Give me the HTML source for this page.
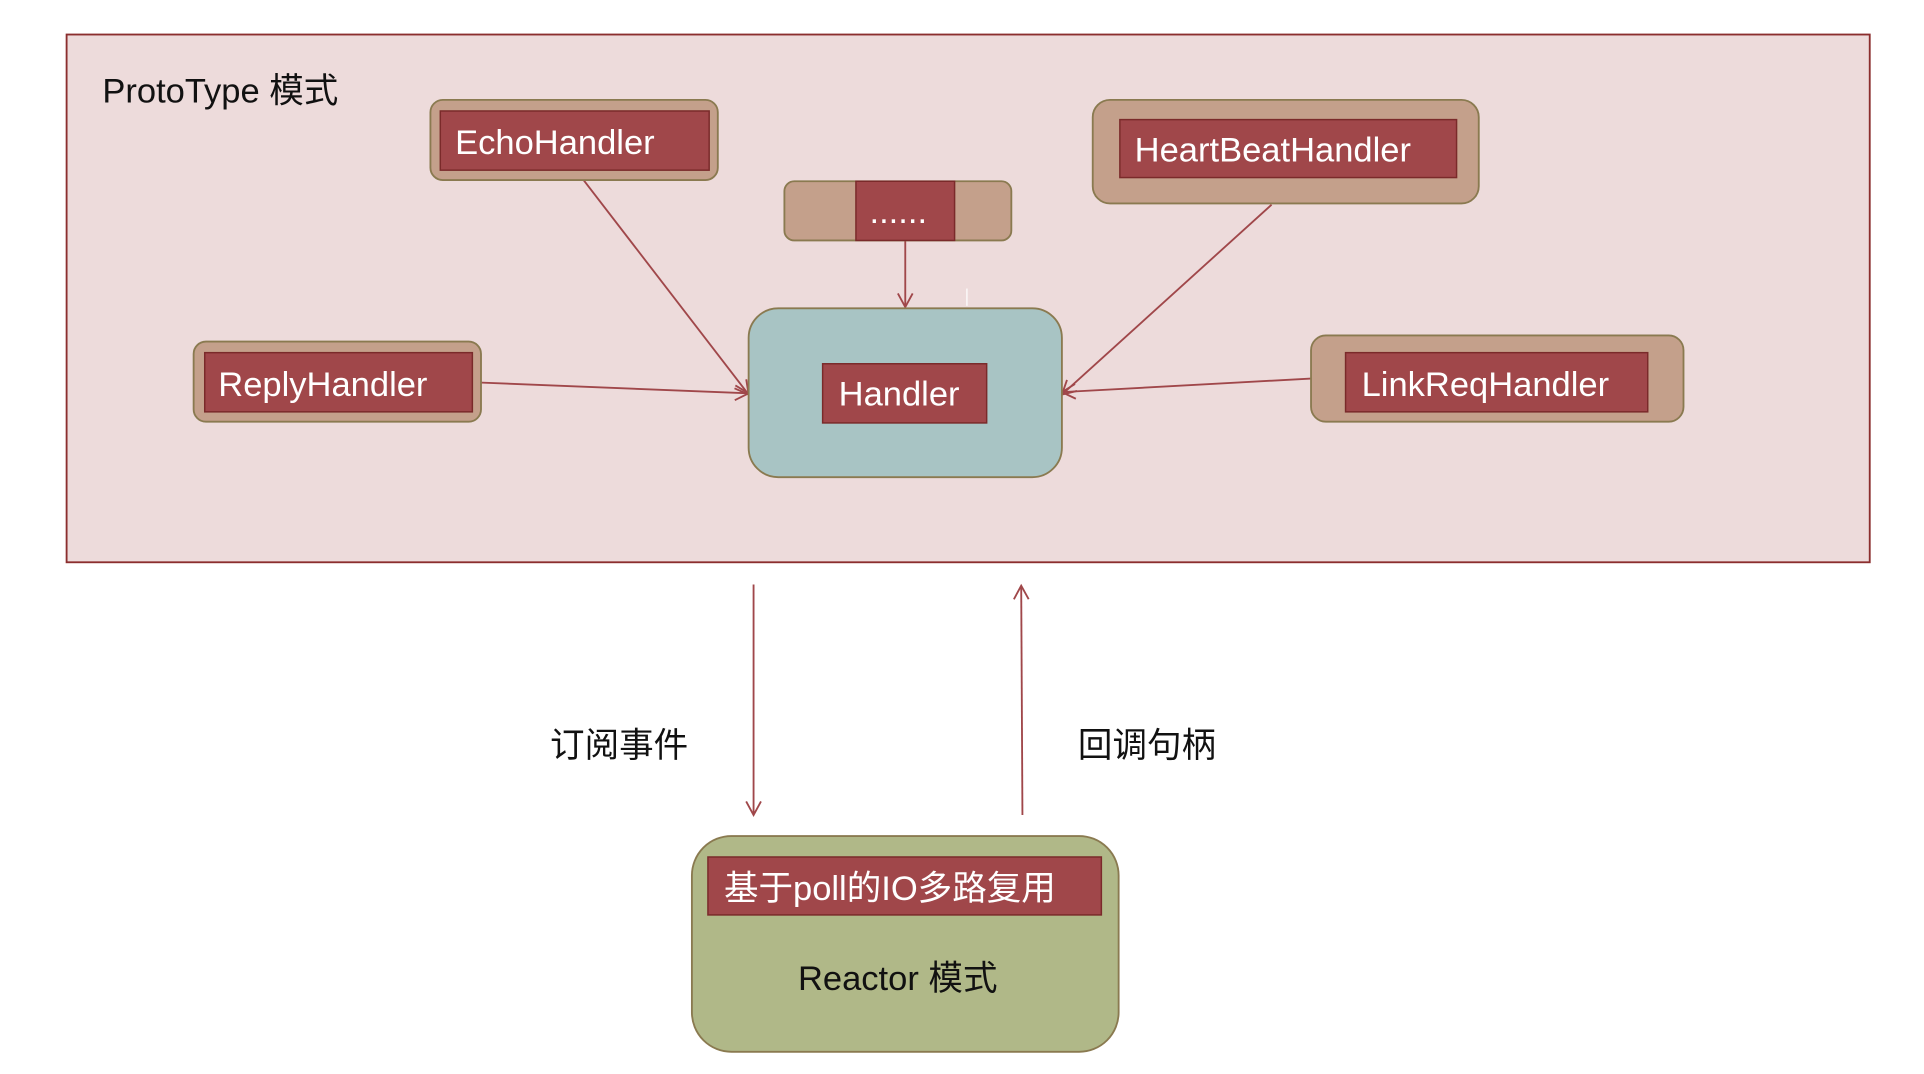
<!DOCTYPE html>
<html><head><meta charset="utf-8"><style>
html,body{margin:0;padding:0;background:#fff;}
svg{display:block;}
text{font-family:"Liberation Sans","Noto Sans CJK SC",sans-serif;}
</style></head><body>
<svg width="1924" height="1074" viewBox="0 0 1560 871" preserveAspectRatio="none" xmlns="http://www.w3.org/2000/svg">
<defs><marker id="a" markerWidth="14" markerHeight="14" refX="12" refY="7" orient="auto" markerUnits="userSpaceOnUse"><path d="M1,1 L12,7 L1,13" fill="none" stroke="#a0474a" stroke-width="1.5"/></marker></defs>
<rect x="54" y="28" width="1462" height="428" fill="#eddbdb" stroke="#8b2e2e" stroke-width="1.5"/>
<text x="83" y="83" font-size="28" fill="#111">ProtoType 模式</text>
<g stroke="#a0474a" stroke-width="1.5" fill="none" marker-end="url(#a)">
<line x1="467" y1="138" x2="607" y2="320"/>
<line x1="734" y1="195" x2="734" y2="249"/>
<line x1="1031" y1="166" x2="861" y2="320"/>
<line x1="383" y1="310" x2="607" y2="319"/>
<line x1="1063" y1="307" x2="861" y2="318"/>
<line x1="611" y1="474" x2="611" y2="661"/>
<line x1="829" y1="661" x2="828" y2="475"/>
</g>
<line x1="784" y1="234" x2="784" y2="248" stroke="#fff" stroke-width="1"/>
<g stroke="#8a7a50" stroke-width="1.5">
<rect x="349" y="81" width="233" height="65" rx="10" fill="#c4a08b"/>
<rect x="636" y="147" width="184" height="48" rx="8" fill="#c4a08b"/>
<rect x="886" y="81" width="313" height="84" rx="14" fill="#c4a08b"/>
<rect x="157" y="277" width="233" height="65" rx="10" fill="#c4a08b"/>
<rect x="1063" y="272" width="302" height="70" rx="12" fill="#c4a08b"/>
<rect x="607" y="250" width="254" height="137" rx="24" fill="#a8c4c4"/>
<rect x="561" y="678" width="346" height="175" rx="32" fill="#b0b888"/>
</g>
<g stroke="#7a2a2a" stroke-width="1.2" fill="#a0474a">
<rect x="357" y="90" width="218" height="48"/>
<rect x="694" y="147" width="80" height="48"/>
<rect x="908" y="97" width="273" height="47"/>
<rect x="166" y="286" width="217" height="48"/>
<rect x="1091" y="286" width="245" height="48"/>
<rect x="667" y="295" width="133" height="48"/>
<rect x="574" y="695" width="319" height="47"/>
</g>
<g fill="#fff" font-size="28">
<text x="369" y="125">EchoHandler</text>
<text x="705" y="181">......</text>
<text x="920" y="131">HeartBeatHandler</text>
<text x="177" y="321">ReplyHandler</text>
<text x="1104" y="321">LinkReqHandler</text>
<text x="680" y="329">Handler</text>
<text x="587" y="730">基于poll的IO多路复用</text>
</g>
<g fill="#111" font-size="28">
<text x="647" y="803">Reactor 模式</text>
<text x="446" y="614">订阅事件</text>
<text x="874" y="614">回调句柄</text>
</g>
</svg>
</body></html>
